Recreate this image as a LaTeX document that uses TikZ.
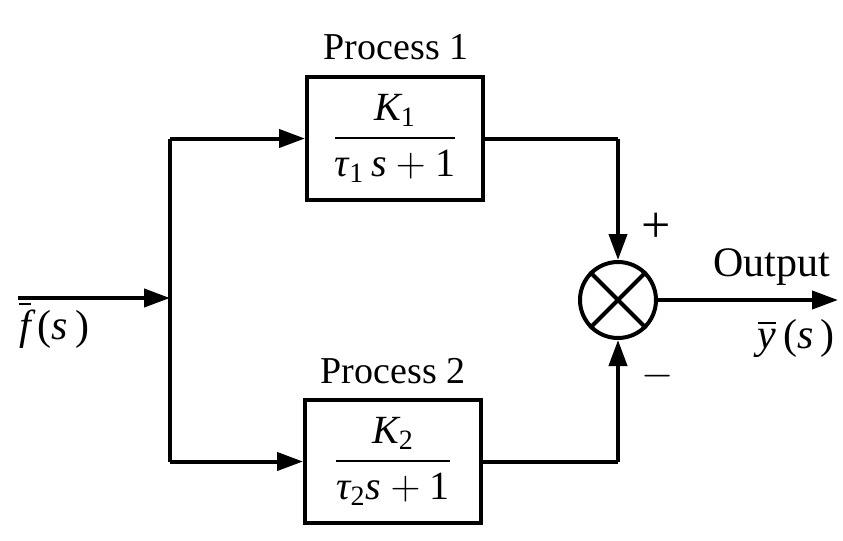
\documentclass[tikz,border=0pt]{standalone}
\usepackage{amsmath}
\usepackage{fontspec}
\setmainfont{Liberation Serif}
\usetikzlibrary{arrows.meta}
\begin{document}
\begin{tikzpicture}[x=0.5pt,y=-0.5pt,
  every node/.style={font=\fontsize{19}{22}\selectfont},
  bigtext/.style={font=\fontsize{21}{24}\selectfont},
  signtext/.style={font=\fontsize{26}{28}\selectfont},
  wire/.style={line width=2pt},
  arr/.style={wire,-{Triangle[length=13pt,width=9pt]}},
  blockbox/.style={draw,line width=2pt,minimum width=88pt,minimum height=61.5pt,inner sep=0pt,font=\fontsize{20}{24}\selectfont},
  sumnode/.style={draw,circle,line width=2pt,minimum size=38pt,inner sep=0pt}]
\useasboundingbox (0,0) rectangle (843,541);
\node[blockbox] (p1) at (395,138.5) {$\dfrac{\textit{K}_{\text{1}}}{\textit{τ}_{\text{1}}\,\textit{s} + \text{1}}$};
\node[blockbox] (p2) at (393,461.5) {$\dfrac{\textit{K}_{\text{2}}}{\textit{τ}_{\text{2}}\textit{s} + \text{1}}$};
\node[sumnode] (sum) at (618,300) {};
\draw[wire] (sum.north east) -- (sum.south west);
\draw[wire] (sum.north west) -- (sum.south east);
\node (l1) at (396,47) {Process 1};
\node (l2) at (393,371) {Process 2};
\coordinate (in) at (18,298);
\coordinate (split) at (170,298);
\coordinate (t1) at (170,138.5);
\coordinate (t2) at (170,461.5);
\coordinate (c1) at (618,138.5);
\coordinate (c2) at (618,461.5);
\coordinate (out) at (838,300);
\draw[arr] (in) -- (split);
\draw[wire] (t1) -- (t2);
\draw[arr] (t1) -- (p1.west);
\draw[arr] (t2) -- (p2.west);
\draw[wire] (p1.east) -- (c1);
\draw[arr] (c1) -- (sum.north);
\draw[wire] (p2.east) -- (c2);
\draw[arr] (c2) -- (sum.south);
\draw[arr] (sum.east) -- (out);
\node[signtext] (plus) at (656,228) {+};
\node[bigtext] (minus) at (658,376) {$-$};
\node[bigtext] (outl) at (772,267) {Output};
\node[bigtext] (ys) at (796,338) {$\overline{\textit{y}}$\,(\textit{s}\,)};
\node[bigtext] (fs) at (54,325) {$\overline{\textit{f}}$\,(\textit{s}\,)};
\end{tikzpicture}
\end{document}
